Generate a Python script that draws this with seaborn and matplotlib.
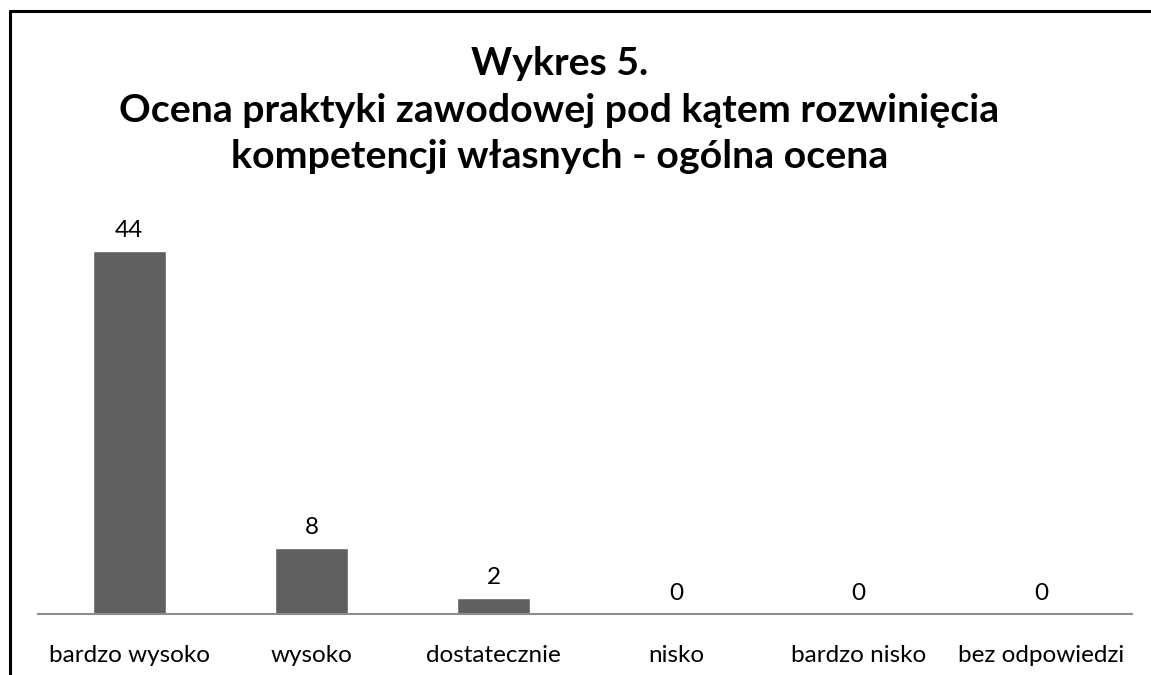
import matplotlib
matplotlib.use("Agg")
import matplotlib.pyplot as plt
import seaborn as sns
import pandas as pd
from matplotlib.lines import Line2D

categories = ["bardzo wysoko", "wysoko", "dostatecznie", "nisko", "bardzo nisko", "bez odpowiedzi"]
values = [44, 8, 2, 0, 0, 0]
title = "Wykres 5.\nOcena praktyki zawodowej pod kątem rozwinięcia\nkompetencji własnych - ogólna ocena"

sns.set_theme(style="white")
plt.rcParams['font.family'] = ['Lato', 'DejaVu Sans']

W, H = 1151, 675
fig = plt.figure(figsize=(W / 100, H / 100), dpi=100)
# axes: x 38..1132, y baseline 614, top 200
ax = fig.add_axes([38 / W, (H - 614) / H, (1132 - 38) / W, (614 - 200) / H])

df = pd.DataFrame({"cat": categories, "val": values})
sns.barplot(data=df, x="cat", y="val", color="#606060", saturation=1, width=0.4, ax=ax)
ax.set_ylim(0, (614 - 200) / 8.25)
ax.set_xlim(-0.5, len(categories) - 0.5)

for i, v in enumerate(values):
    ax.annotate(str(v), (i, v), xytext=(0, 7), textcoords="offset points",
                ha="center", va="bottom", fontsize=17.5, color="black")

for s in ["top", "right", "left"]:
    ax.spines[s].set_visible(False)
ax.spines["bottom"].set_color("#8c8c8c")
ax.spines["bottom"].set_linewidth(1.5)
ax.set_yticks([])
ax.set_xlabel("")
ax.set_ylabel("")
ax.tick_params(axis="x", length=0, pad=22.5, labelsize=17.5, colors="black")

fig.text(0.486, (H - 46) / H, title, ha="center", va="top", fontsize=28.3,
         fontweight="bold", linespacing=1.4, color="black")

# outer border (left and top visible)
fig.add_artist(Line2D([9.5 / W, 9.5 / W], [0, (H - 11) / H], color="black", lw=2.2,
                      transform=fig.transFigure))
fig.add_artist(Line2D([9.5 / W, 1.0], [(H - 11) / H, (H - 11) / H], color="black", lw=2.2,
                      transform=fig.transFigure))

fig.savefig("out.png", dpi=100, facecolor="white")
